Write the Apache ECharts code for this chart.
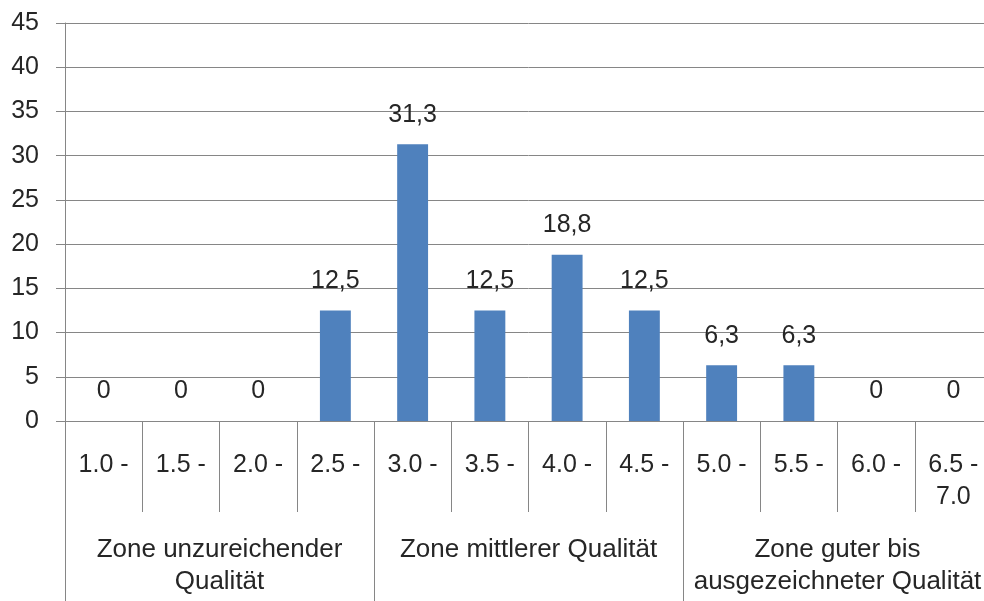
<!DOCTYPE html>
<html>
<head>
<meta charset="utf-8">
<script src="https://cdn.jsdelivr.net/npm/echarts@6/dist/echarts.min.js"></script>
<style>
html,body{margin:0;padding:0;background:#fff;overflow:hidden;}
/* Diagramm ist etwas breiter als das Fenster, rechter Rand wird abgeschnitten */
#chart{width:992px;height:601px;}
</style>
</head>
<body>
<div id="chart"></div>
<script>
// Klassen (Notenbereiche) und Zonen
var klassen = ["1.0 -", "1.5 -", "2.0 -", "2.5 -", "3.0 -", "3.5 -", "4.0 -", "4.5 -", "5.0 -", "5.5 -", "6.0 -", "6.5 -\n7.0"];
var zonen = ["Zone unzureichender\nQualität", "Zone mittlerer Qualität", "Zone guter bis\nausgezeichneter Qualität"];
var anteile = [0, 0, 0, 12.5, 31.3, 12.5, 18.8, 12.5, 6.3, 6.3, 0, 0];
var yTicks = [0, 45, 5]; // min, max, interval

var grau = "#868686";
var schrift = "Liberation Sans";

var myChart = echarts.init(document.getElementById("chart"));

var option = {
	animation: false,
	grid: {
		left: 65,
		top: 23,
		right: 0,
		bottom: 180
	},
	xAxis: [
		{
			type: "category",
			data: klassen,
			position: "bottom",
			axisLine: { show: true, lineStyle: { color: grau, width: 1 } },
			axisTick: { show: true, length: 91, interval: 0, lineStyle: { color: grau } },
			axisLabel: {
				interval: 0,
				margin: 28,
				color: "#262626",
				fontFamily: schrift,
				fontSize: 25,
				lineHeight: 32,
				align: "center",
				verticalAlign: "top"
			}
		},
		{
			type: "category",
			data: zonen,
			position: "bottom",
			axisLine: { show: false },
			axisTick: { show: true, length: 180, interval: 0, lineStyle: { color: grau } },
			axisLabel: {
				interval: 0,
				margin: 113,
				color: "#262626",
				fontFamily: schrift,
				fontSize: 26,
				lineHeight: 32,
				align: "center",
				verticalAlign: "top"
			}
		}
	],
	yAxis: {
		type: "value",
		min: yTicks[0],
		max: yTicks[1],
		interval: yTicks[2],
		axisLine: { show: true, lineStyle: { color: grau } },
		axisTick: { show: true, length: 9, lineStyle: { color: grau } },
		splitLine: { show: true, lineStyle: { color: grau, width: 1 } },
		axisLabel: {
			margin: 26,
			color: "#262626",
			fontFamily: schrift,
			fontSize: 25
		}
	},
	series: [
		{
			type: "bar",
			xAxisIndex: 0,
			data: anteile,
			barCategoryGap: "60%",
			itemStyle: { color: "#4f81bd" },
			label: {
				show: true,
				position: "top",
				distance: 17,
				color: "#262626",
				fontFamily: schrift,
				fontSize: 25,
				formatter: function (p) {
					return String(p.value).replace(".", ",");
				}
			}
		}
	]
};

myChart.setOption(option);
</script>
</body>
</html>
